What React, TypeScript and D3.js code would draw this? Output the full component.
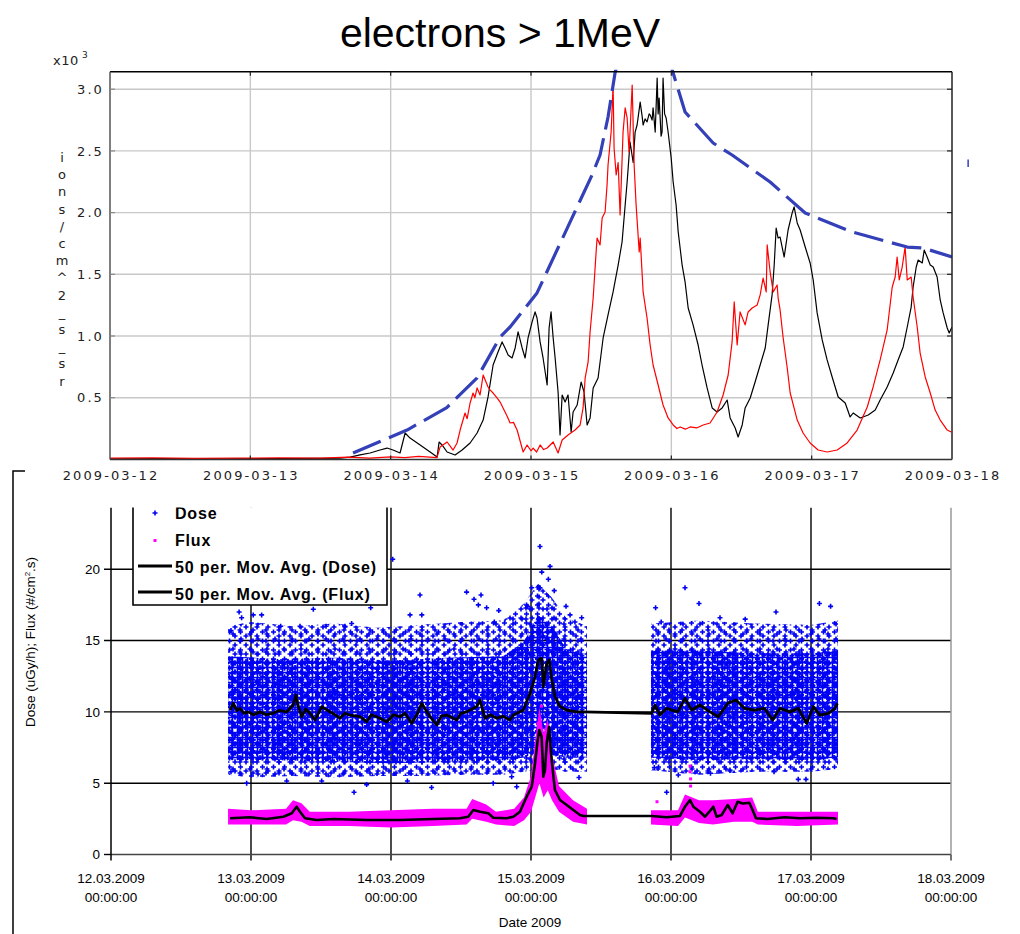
import React from "react";
import * as d3 from "d3";

// ---------- upper panel: electrons > 1 MeV ----------
const TOP_DAY_LABELS = [
  "2009-03-12", "2009-03-13", "2009-03-14", "2009-03-15",
  "2009-03-16", "2009-03-17", "2009-03-18",
];
const TOP_Y_TICKS = [500, 1000, 1500, 2000, 2500, 3000];
const TOP_Y_LABEL = "ions/cm^2_s_sr";

// [day since 2009-03-12 00:00, ions/cm^2-s-sr]
const redChannel: [number, number][] = [
  [0, 10], [0.3, 12], [0.6, 8], [0.9, 10], [1.2, 12], [1.5, 10], [1.7, 18], [1.85, 10], [2.0, 20],
  [2.1, 15], [2.2, 25], [2.33, 15], [2.352, 100], [2.402, 141], [2.445, 76], [2.473, 133], [2.495, 238],
  [2.53, 376], [2.545, 330], [2.566, 457], [2.587, 538], [2.6, 500], [2.616, 579], [2.637, 522], [2.659, 684], [2.694, 587],
  [2.708, 563], [2.73, 538], [2.758, 498], [2.78, 465], [2.801, 417], [2.83, 350], [2.851, 295], [2.875, 300], [2.901, 238],
  [2.944, 60], [2.972, 117], [3.0, 70], [3.015, 92], [3.04, 60], [3.065, 117], [3.09, 80], [3.115, 92], [3.158, 141], [3.193, 52],
  [3.222, 157], [3.264, 198], [3.314, 238], [3.35, 279], [3.371, 417], [3.386, 660], [3.407, 790],
  [3.421, 1033], [3.443, 1308], [3.464, 1681], [3.471, 1794], [3.492, 1738], [3.507, 1956], [3.528, 2005],
  [3.542, 2224], [3.549, 2386], [3.571, 2653], [3.585, 3034], [3.592, 2524], [3.607, 2305], [3.621, 2406],
  [3.635, 1981], [3.656, 2653], [3.671, 2849], [3.685, 2767], [3.699, 2491], [3.721, 3034], [3.735, 2386],
  [3.749, 2062], [3.771, 1681], [3.778, 1794], [3.799, 1357], [3.827, 1146], [3.849, 927], [3.87, 765],
  [3.906, 603], [3.941, 441], [3.977, 336], [4.013, 279], [4.04, 250], [4.063, 263], [4.1, 245], [4.134, 263], [4.18, 255], [4.227, 279],
  [4.276, 295], [4.326, 384], [4.369, 522], [4.405, 684], [4.433, 952], [4.448, 1276], [4.469, 927],
  [4.49, 1195], [4.526, 1090], [4.547, 1195], [4.576, 1227], [4.612, 1252], [4.633, 1333], [4.654, 1470],
  [4.676, 1357], [4.683, 1738], [4.704, 1519], [4.726, 1357], [4.754, 1414], [4.761, 1308], [4.775, 1211],
  [4.797, 984], [4.825, 749], [4.847, 538], [4.897, 319], [4.939, 214], [4.989, 133], [5.046, 76],
  [5.11, 60], [5.182, 76], [5.253, 133], [5.324, 238], [5.396, 425], [5.438, 587], [5.488, 806],
  [5.538, 1049], [5.574, 1397], [5.595, 1478], [5.609, 1640], [5.624, 1454], [5.645, 1559], [5.666, 1721],
  [5.681, 1454], [5.709, 1478], [5.723, 1316], [5.752, 1073], [5.773, 862], [5.809, 668], [5.845, 538],
  [5.88, 400], [5.916, 319], [5.966, 238], [5.994, 222],
];

const blackChannel: [number, number][] = [
  [0, 5], [0.4, 6], [0.8, 5], [1.2, 6], [1.5, 8], [1.639, 11], [1.711, 19], [1.782, 36], [1.853, 52],
  [1.924, 76], [1.974, 92], [2.017, 76], [2.067, 52], [2.103, 214], [2.138, 173], [2.21, 117], [2.281, 60],
  [2.331, 19], [2.345, 141], [2.366, 117], [2.402, 60], [2.459, 36], [2.509, 76], [2.566, 133], [2.616, 214],
  [2.659, 319], [2.694, 506], [2.73, 765], [2.765, 871], [2.794, 952], [2.815, 903], [2.837, 846],
  [2.865, 822], [2.887, 903], [2.908, 1033], [2.937, 903], [2.958, 822], [2.979, 984], [3.008, 1114],
  [3.029, 1195], [3.043, 1146], [3.065, 952], [3.086, 822], [3.115, 603], [3.129, 1065], [3.143, 1195],
  [3.158, 984], [3.172, 822], [3.193, 546], [3.207, 198], [3.222, 522], [3.243, 465], [3.264, 522],
  [3.286, 222], [3.3, 384], [3.329, 441], [3.357, 627], [3.378, 546], [3.4, 279], [3.421, 336],
  [3.443, 579], [3.478, 660], [3.514, 984], [3.549, 1171], [3.585, 1357], [3.621, 1575], [3.649, 1762],
  [3.671, 2062], [3.685, 2248], [3.706, 2572], [3.728, 2406], [3.742, 2653], [3.756, 2710], [3.778, 2896],
  [3.792, 2780], [3.799, 2710], [3.813, 2760], [3.827, 2735], [3.842, 2800], [3.849, 2792], [3.863, 2750],
  [3.87, 2849], [3.885, 2653], [3.892, 2870], [3.899, 3091], [3.906, 2800], [3.913, 2929], [3.927, 2620],
  [3.934, 2653], [3.941, 3091], [3.952, 2800], [3.963, 2767], [3.977, 2653], [3.999, 2443], [4.013, 2248],
  [4.034, 2062], [4.049, 1843], [4.077, 1575], [4.098, 1438], [4.12, 1227], [4.155, 1090], [4.191, 927],
  [4.219, 765], [4.255, 579], [4.291, 417], [4.326, 384], [4.362, 417], [4.398, 481], [4.419, 336],
  [4.455, 254], [4.476, 182], [4.505, 279], [4.526, 417], [4.562, 498], [4.597, 627], [4.633, 765],
  [4.669, 903], [4.69, 1090], [4.718, 1333], [4.733, 1575], [4.747, 1875], [4.761, 1794], [4.775, 1802],
  [4.804, 1640], [4.832, 1859], [4.861, 1997], [4.875, 2046], [4.897, 1916], [4.918, 1859], [4.954, 1721],
  [4.989, 1592], [5.011, 1454], [5.039, 1187], [5.075, 968], [5.11, 806], [5.146, 668], [5.189, 506],
  [5.239, 457], [5.274, 344], [5.296, 376], [5.346, 336], [5.403, 360], [5.453, 400], [5.488, 481],
  [5.538, 587], [5.581, 700], [5.616, 806], [5.652, 911], [5.681, 1073], [5.709, 1235], [5.723, 1397],
  [5.745, 1559], [5.759, 1616], [5.788, 1592], [5.802, 1697], [5.823, 1640], [5.845, 1575], [5.866, 1559],
  [5.894, 1478], [5.916, 1292], [5.937, 1187], [5.966, 1065], [5.98, 1025], [6.0, 1073],
];

// hand-drawn upper envelope of the peaks
const peakEnvelope: [number, number][] = [
  [1.732, 52], [2.117, 238], [2.4, 420], [2.616, 660], [2.78, 992], [2.851, 1073], [3.043, 1349], [3.435, 2305],
  [3.492, 2467], [3.549, 2775], [3.6, 3140], [3.8, 3900], [4.013, 3131], [4.098, 2815], [4.298, 2564],
  [4.433, 2467], [4.704, 2248], [4.954, 1997], [5.289, 1843], [5.681, 1721], [5.795, 1713], [6.0, 1640],
];
const envelopeStray: [number, number][] = [[6.115, 2370], [6.115, 2430]];

// ---------- lower panel: dose / flux ----------
const BOTTOM_DATE_LABELS = [
  "12.03.2009", "13.03.2009", "14.03.2009", "15.03.2009",
  "16.03.2009", "17.03.2009", "18.03.2009",
];
const BOTTOM_TIME_LABEL = "00:00:00";
const BOTTOM_Y_TICKS = [0, 5, 10, 15, 20];

// dose scatter extent: [day, low, high] of the thinner outer spread and the dense core
const doseSpreadA: [number, number, number][] = [
  [0.836, 5.6, 16.0], [1.0, 5.4, 16.3], [1.3, 5.5, 16.0], [1.6, 5.4, 16.2], [1.9, 5.5, 15.9],
  [2.2, 5.5, 16.1], [2.5, 5.6, 16.3], [2.8, 5.6, 16.4], [2.95, 5.8, 17.6], [3.05, 6.0, 19.0],
  [3.15, 6.0, 18.0], [3.25, 5.8, 16.6], [3.4, 5.8, 16.0],
];
const doseCoreA: [number, number, number][] = [
  [0.836, 6.6, 13.9], [1.2, 6.6, 13.7], [1.6, 6.5, 13.8], [2.0, 6.4, 13.6], [2.4, 6.5, 13.8],
  [2.8, 6.6, 13.9], [2.95, 6.8, 14.9], [3.05, 7.2, 16.8], [3.15, 7.0, 16.0], [3.25, 6.8, 14.4],
  [3.4, 6.8, 13.9],
];
const doseSpreadB: [number, number, number][] = [
  [3.857, 5.9, 16.2], [4.2, 5.6, 16.4], [4.6, 5.8, 16.2], [5.0, 5.8, 16.1], [5.193, 6.0, 16.4],
];
const doseCoreB: [number, number, number][] = [
  [3.857, 6.8, 14.3], [4.2, 6.6, 14.3], [4.6, 6.7, 14.1], [5.0, 6.6, 14.1], [5.193, 6.8, 14.3],
];
const doseOutliers: [number, number][] = [
  [0.857, 15.7], [0.915, 17.0], [0.933, 16.6], [1.016, 16.8], [1.076, 16.8], [1.212, 16.0], [1.35, 16.0],
  [1.445, 17.2], [1.536, 16.0], [1.671, 16.0], [1.719, 16.2], [1.855, 17.3], [2.012, 20.7], [2.136, 16.8],
  [2.207, 18.2], [2.22, 16.8], [2.54, 18.4], [2.593, 17.9], [2.643, 18.2], [2.624, 17.5], [2.683, 17.3],
  [2.77, 17.1], [2.738, 16.3], [3.064, 21.6], [3.136, 20.2], [3.077, 19.8], [3.124, 19.3], [3.005, 18.7],
  [3.064, 18.7], [3.166, 18.5], [2.976, 17.4], [3.25, 17.4], [3.279, 16.8], [3.362, 16.6], [3.314, 16.3],
  [0.969, 5.0], [1.736, 4.36], [2.29, 4.7], [1.826, 4.9], [1.505, 5.15], [1.255, 5.15], [2.117, 5.15],
  [2.73, 5.0], [2.862, 5.45], [0.857, 5.8], [2.898, 4.75], [3.343, 5.4], [3.969, 4.36], [4.052, 5.57],
  [4.282, 5.7], [4.421, 5.93], [4.909, 5.27], [4.964, 5.27], [4.736, 5.8], [3.881, 6.1],
  [3.89, 17.3], [4.1, 18.7], [4.2, 17.6], [4.53, 16.5], [4.75, 17.0], [5.06, 17.6], [5.14, 17.4],
  [3.93, 16.3], [4.35, 16.6],
];

// flux scatter extent: [day, low, high]
const fluxSpreadA: [number, number, number][] = [
  [0.836, 2.1, 3.2], [1.0, 2.1, 3.1], [1.25, 2.1, 3.2], [1.3, 2.4, 3.8], [1.36, 2.3, 3.6], [1.42, 2.0, 3.0],
  [1.7, 2.0, 3.0], [2.0, 1.9, 3.1], [2.3, 2.0, 3.2], [2.54, 2.1, 3.2], [2.58, 2.5, 3.9], [2.68, 2.3, 3.5],
  [2.75, 2.1, 3.0], [2.88, 2.0, 3.2], [2.95, 2.4, 4.0], [3.0, 3.0, 5.5], [3.03, 4.0, 8.0], [3.06, 5.0, 10.3],
  [3.09, 4.0, 8.5], [3.12, 4.5, 9.5], [3.15, 3.8, 7.0], [3.2, 3.0, 4.8], [3.3, 2.3, 3.8], [3.4, 2.1, 3.2],
];
const fluxSpreadB: [number, number, number][] = [
  [3.857, 2.1, 3.1], [4.05, 2.0, 3.1], [4.1, 2.6, 4.2], [4.2, 2.2, 3.8], [4.3, 2.1, 3.8], [4.45, 2.3, 3.9],
  [4.58, 2.3, 4.0], [4.62, 2.1, 3.0], [4.9, 2.0, 3.0], [5.193, 2.1, 3.0],
];
const fluxOutliers: [number, number][] = [
  [4.136, 6.2], [4.136, 5.8], [4.14, 5.3], [4.14, 4.8], [3.074, 10.4], [3.05, 9.2], [3.9, 3.7],
];

// 50-period moving averages
const doseAverage: [number, number][] = [
  [0.85, 10.13], [0.874, 10.6], [0.9, 10.1], [0.921, 10.25], [0.95, 9.9], [0.981, 10.0], [1.02, 9.8], [1.064, 10.0],
  [1.11, 9.8], [1.157, 9.9], [1.2, 10.1], [1.255, 10.0],
  [1.302, 10.5], [1.321, 11.2], [1.338, 10.4], [1.362, 9.66], [1.39, 10.2], [1.421, 9.9], [1.457, 9.43], [1.505, 10.37],
  [1.564, 10.0], [1.6, 9.8], [1.636, 9.55], [1.67, 9.9], [1.707, 9.78], [1.779, 9.66], [1.826, 9.31], [1.86, 9.8], [1.898, 9.66],
  [1.969, 9.31], [2.02, 9.8],
  [2.064, 9.66], [2.1, 9.9], [2.148, 9.2], [2.19, 9.9], [2.219, 10.6], [2.279, 9.66], [2.326, 9.08], [2.36, 9.7], [2.398, 9.78],
  [2.469, 9.43], [2.5, 9.9],
  [2.54, 10.0], [2.612, 10.37], [2.636, 10.83], [2.671, 9.55], [2.71, 9.8], [2.755, 9.55], [2.8, 9.7], [2.85, 9.43], [2.874, 9.78],
  [2.945, 10.13], [2.993, 11.3], [3.029, 12.47], [3.052, 13.64], [3.076, 13.76], [3.088, 11.77],
  [3.112, 13.4], [3.131, 13.64], [3.148, 12.24], [3.171, 11.07], [3.207, 10.37], [3.255, 10.13],
  [3.326, 10.0], [3.374, 10.0], [3.862, 9.9], [3.886, 10.48], [3.921, 9.78], [3.969, 10.25], [4.048, 10.0],
  [4.1, 10.95], [4.148, 10.13], [4.207, 10.48], [4.279, 10.0], [4.338, 9.66], [4.405, 10.6], [4.464, 10.83],
  [4.524, 10.25], [4.595, 10.13], [4.667, 10.25], [4.726, 9.43], [4.779, 10.25], [4.85, 10.0],
  [4.909, 10.25], [4.969, 9.2], [5.017, 10.37], [5.064, 9.78], [5.124, 9.9], [5.171, 10.25], [5.188, 10.6],
];
const fluxAverage: [number, number][] = [
  [0.85, 2.54], [0.993, 2.61], [1.112, 2.49], [1.231, 2.65], [1.291, 2.89], [1.326, 3.35], [1.35, 3.0],
  [1.386, 2.54], [1.469, 2.42], [1.588, 2.49], [1.826, 2.42], [2.064, 2.42], [2.302, 2.49], [2.493, 2.54],
  [2.552, 2.65], [2.588, 3.12], [2.636, 3.0], [2.695, 2.89], [2.731, 2.58], [2.826, 2.54], [2.874, 2.65],
  [2.921, 3.0], [2.969, 4.05], [3.005, 4.75], [3.029, 6.4], [3.045, 7.8], [3.059, 8.73], [3.076, 8.26],
  [3.088, 5.45], [3.1, 5.93], [3.112, 7.8], [3.129, 8.96], [3.141, 7.33], [3.155, 5.93], [3.171, 4.52],
  [3.207, 3.82], [3.255, 3.47], [3.302, 3.12], [3.35, 2.77], [3.374, 2.7], [3.862, 2.7], [3.969, 2.61],
  [4.064, 2.7], [4.1, 3.35], [4.136, 3.82], [4.16, 3.35], [4.207, 3.0], [4.243, 2.65], [4.274, 3.0],
  [4.302, 3.35], [4.326, 2.65], [4.362, 2.77], [4.405, 3.47], [4.44, 2.89], [4.476, 3.7], [4.512, 3.58],
  [4.559, 3.63], [4.583, 3.12], [4.607, 2.54], [4.69, 2.49], [4.81, 2.61], [4.921, 2.54], [5.04, 2.58],
  [5.16, 2.54], [5.183, 2.49],
];

// ---------- layout ----------
const W = 1020;
const H = 934;
const TOP = { left: 110, right: 952, top: 71.7, bottom: 459.4 };
const BOT = { left: 111, right: 951, top: 507.5, bottom: 854.5 };

const xTop = d3.scaleLinear().domain([0, 6]).range([TOP.left, TOP.right]);
const yTop = d3.scaleLinear().domain([0, 3142]).range([TOP.bottom, TOP.top]);
const xBot = d3.scaleLinear().domain([0, 6]).range([BOT.left, BOT.right]);
const yBot = d3.scaleLinear().domain([0, 24.33]).range([BOT.bottom, BOT.top]);

const topLine = d3.line<[number, number]>().x((d) => xTop(d[0])).y((d) => yTop(d[1]));
const botLine = d3.line<[number, number]>().x((d) => xBot(d[0])).y((d) => yBot(d[1]));
const botBand = d3
  .area<[number, number, number]>()
  .x((d) => xBot(d[0]))
  .y0((d) => yBot(d[1]))
  .y1((d) => yBot(d[2]));

const DOSE_BLUE = "#0000f4";
const FLUX_MAGENTA = "#ff00ff";
const TOP_FONT = "'DejaVu Sans', Verdana, sans-serif";
const BOT_FONT = "'Liberation Sans', Arial, sans-serif";

const cross = (x: number, y: number, r: number) =>
  `M${x - r},${y}h${2 * r}M${x},${y - r}v${2 * r}`;

// marker textures for the scatter clouds: lattices of different periods
// laid over each other so the crosses do not line up into a visible grid
const LATTICES = [
  { id: "latA", w: 5, h: 5, pts: [[2.5, 2.5]] },
  { id: "latB", w: 7, h: 6, pts: [[1, 1.5]] },
  { id: "latC", w: 11, h: 9, pts: [[4, 6], [9.5, 2]] },
  { id: "latD", w: 13, h: 11, pts: [[6, 3]] },
  { id: "latE", w: 17, h: 15, pts: [[3, 9], [12, 4]] },
];
const wrapCrosses = (pts: number[][], w: number, h: number, r: number) => {
  let p = "";
  for (const [x, y] of pts)
    for (const dx of [-w, 0, w]) for (const dy of [-h, 0, h]) p += cross(x + dx, y + dy, r);
  return p;
};
const CORE_LAYERS = ["latA", "latB", "latC", "latD", "latE"];
const SPREAD_LAYERS = ["latC", "latD", "latE"];

export default function App() {
  const dayIdx = d3.range(7);
  return (
    <div style={{ position: "absolute", left: 0, top: 0, width: W, height: H, background: "#fff" }}>
      <svg width={W} height={H} viewBox={`0 0 ${W} ${H}`} style={{ display: "block" }}>
        <defs>
          <clipPath id="topClip">
            <rect x={TOP.left} y={TOP.top - 2} width={TOP.right - TOP.left} height={TOP.bottom - TOP.top + 2} />
          </clipPath>
          <clipPath id="botClip">
            <rect x={BOT.left} y={BOT.top} width={BOT.right - BOT.left} height={BOT.bottom - BOT.top} />
          </clipPath>
          <clipPath id="botFrameClip">
            <rect x={0} y={BOT.top} width={W} height={H - BOT.top} />
          </clipPath>
          {LATTICES.map((l) => (
            <pattern key={l.id} id={l.id} patternUnits="userSpaceOnUse" width={l.w} height={l.h}>
              <path d={wrapCrosses(l.pts, l.w, l.h, 2.5)} stroke={DOSE_BLUE} strokeWidth={1.6} />
            </pattern>
          ))}
        </defs>

        {/* ---------- upper panel ---------- */}
        <text x={500} y={47} textAnchor="middle" fontFamily={BOT_FONT} fontSize={41} fill="#000">
          electrons &gt; 1MeV
        </text>

        {/* grid */}
        <g stroke="#c8c8c8" strokeWidth={1.4}>
          {dayIdx.slice(1, 6).map((i) => (
            <line key={`tv${i}`} x1={xTop(i)} x2={xTop(i)} y1={TOP.top} y2={TOP.bottom} />
          ))}
          {TOP_Y_TICKS.map((t) => (
            <line key={`th${t}`} x1={TOP.left} x2={TOP.right} y1={yTop(t)} y2={yTop(t)} />
          ))}
        </g>

        {/* data */}
        <g clipPath="url(#topClip)" fill="none">
          <path d={topLine(blackChannel) || ""} stroke="#000" strokeWidth={1.2} strokeLinejoin="round" />
          <path d={topLine(redChannel) || ""} stroke="#ff0000" strokeWidth={1.2} strokeLinejoin="round" />
          <path
            d={topLine(peakEnvelope) || ""}
            stroke="#3340b8"
            strokeWidth={3.2}
            strokeDasharray="30 9"
            strokeLinejoin="round"
          />
        </g>
        <path d={topLine(envelopeStray) || ""} stroke="#3340b8" strokeWidth={1.5} fill="none" />

        {/* frame and ticks */}
        <g fill="none">
          <line x1={TOP.left} x2={TOP.right} y1={TOP.top} y2={TOP.top} stroke="#000" strokeWidth={1.5} />
          <line x1={TOP.right} x2={TOP.right} y1={TOP.top} y2={TOP.bottom} stroke="#222" strokeWidth={1.5} />
          <line x1={TOP.left} x2={TOP.left} y1={TOP.top} y2={TOP.bottom} stroke="#555" strokeWidth={1.5} />
          <line x1={TOP.left} x2={TOP.right} y1={TOP.bottom} y2={TOP.bottom} stroke="#333" strokeWidth={1.5} />
          {dayIdx.slice(1, 6).map((i) => (
            <g key={`tt${i}`} stroke="#222" strokeWidth={1.2}>
              <line x1={xTop(i)} x2={xTop(i)} y1={TOP.top} y2={TOP.top + 4} />
              <line x1={xTop(i)} x2={xTop(i)} y1={TOP.bottom} y2={TOP.bottom - 4} />
            </g>
          ))}
          {TOP_Y_TICKS.map((t) => (
            <g key={`ty${t}`} strokeWidth={1.2}>
              <line x1={TOP.right} x2={TOP.right - 5} y1={yTop(t)} y2={yTop(t)} stroke="#222" />
              <line x1={TOP.left} x2={TOP.left + 5} y1={yTop(t)} y2={yTop(t)} stroke="#888" />
            </g>
          ))}
        </g>

        {/* labels */}
        <g fontFamily={TOP_FONT} fontSize={13} fill="#222" letterSpacing={2.1}>
          {TOP_DAY_LABELS.map((lab, i) => (
            <text key={lab} x={xTop(i) + 1} y={480} textAnchor="middle">
              {lab}
            </text>
          ))}
          {TOP_Y_TICKS.map((t) => (
            <text key={`yl${t}`} x={104} y={yTop(t)} dy="0.36em" textAnchor="end">
              {(t / 1000).toFixed(1)}
            </text>
          ))}
          {TOP_Y_LABEL.split("").map((ch, i) => (
            <text key={`ch${i}`} x={62} y={162 + i * 17.2} textAnchor="middle" letterSpacing={0}>
              {ch}
            </text>
          ))}
          <text x={53} y={65} letterSpacing={0.5}>
            x10
          </text>
          <text x={82} y={58} fontSize={9} letterSpacing={0}>
            3
          </text>
        </g>

        {/* ---------- lower panel ---------- */}
        <path d="M25,471 H13 V934" stroke="#000" strokeWidth={1.5} fill="none" />

        <g clipPath="url(#botFrameClip)">
          {/* grid */}
          <g stroke="#000" strokeWidth={1.4}>
            {BOTTOM_Y_TICKS.slice(1).map((t) => (
              <line key={`bh${t}`} x1={BOT.left - 7} x2={BOT.right} y1={yBot(t)} y2={yBot(t)} />
            ))}
            {dayIdx.slice(1, 6).map((i) => (
              <line key={`bv${i}`} x1={xBot(i)} x2={xBot(i)} y1={BOT.top} y2={BOT.bottom + 6} />
            ))}
          </g>

          {/* scatter clouds and moving averages */}
          <g clipPath="url(#botClip)">
            {[doseSpreadA, doseSpreadB].map((band, k) =>
              SPREAD_LAYERS.map((id) => (
                <path key={`sp${k}${id}`} d={botBand(band) || ""} fill={`url(#${id})`} />
              ))
            )}
            {[doseCoreA, doseCoreB].map((band, k) =>
              CORE_LAYERS.map((id) => (
                <path key={`co${k}${id}`} d={botBand(band) || ""} fill={`url(#${id})`} />
              ))
            )}
            <path
              d={doseOutliers.map((d) => cross(xBot(d[0]), yBot(d[1]), 2.5)).join("")}
              stroke={DOSE_BLUE}
              strokeWidth={1.6}
            />
            <path d={botBand(fluxSpreadA) || ""} fill={FLUX_MAGENTA} />
            <path d={botBand(fluxSpreadB) || ""} fill={FLUX_MAGENTA} />
            {fluxOutliers.map((d, i) => (
              <rect key={`fo${i}`} x={xBot(d[0]) - 1.5} y={yBot(d[1]) - 1.5} width={3} height={3} fill={FLUX_MAGENTA} />
            ))}
            <path d={botLine(doseAverage) || ""} stroke="#000" strokeWidth={2.8} fill="none" strokeLinejoin="round" />
            <path d={botLine(fluxAverage) || ""} stroke="#000" strokeWidth={2.6} fill="none" strokeLinejoin="round" />
          </g>

          {/* axes */}
          <line x1={BOT.left} x2={BOT.right} y1={BOT.bottom} y2={BOT.bottom} stroke="#444" strokeWidth={1.5} />
          <line x1={BOT.left} x2={BOT.left} y1={BOT.top} y2={BOT.bottom + 6} stroke="#000" strokeWidth={1.5} />
          <line x1={BOT.right} x2={BOT.right} y1={BOT.top} y2={BOT.bottom} stroke="#999" strokeWidth={1.5} />
          <line x1={BOT.right} x2={BOT.right} y1={BOT.bottom} y2={BOT.bottom + 6} stroke="#444" strokeWidth={1.5} />
          <line x1={BOT.left - 7} x2={BOT.left} y1={BOT.bottom} y2={BOT.bottom} stroke="#000" strokeWidth={1.4} />

          {/* legend */}
          <g>
            <path d={`M133,${BOT.top - 2} V605 H387 V${BOT.top - 2}`} fill="#fff" stroke="#000" strokeWidth={1.6} />
            <path d={cross(155, 513, 2.5)} stroke={DOSE_BLUE} strokeWidth={1.6} />
            <rect x={153.5} y={539} width={3} height={3} fill={FLUX_MAGENTA} />
            <line x1={138} x2={172} y1={566} y2={566} stroke="#000" strokeWidth={3} />
            <line x1={138} x2={172} y1={592} y2={592} stroke="#000" strokeWidth={3} />
            <g fontFamily={BOT_FONT} fontWeight="bold" fontSize={16} fill="#000" letterSpacing={0.8}>
              <text x={175} y={518.5}>Dose</text>
              <text x={175} y={546}>Flux</text>
              <text x={175} y={572.5}>50 per. Mov. Avg. (Dose)</text>
              <text x={175} y={599.5}>50 per. Mov. Avg. (Flux)</text>
            </g>
          </g>
        </g>

        {/* lower panel labels */}
        <g fontFamily={BOT_FONT} fontSize={13.5} fill="#000">
          {BOTTOM_Y_TICKS.map((t) => (
            <text key={`byl${t}`} x={100} y={yBot(t)} dy="0.36em" textAnchor="end">
              {t}
            </text>
          ))}
          {BOTTOM_DATE_LABELS.map((lab, i) => (
            <g key={lab}>
              <text x={xBot(i)} y={883} textAnchor="middle">
                {lab}
              </text>
              <text x={xBot(i)} y={902} textAnchor="middle">
                {BOTTOM_TIME_LABEL}
              </text>
            </g>
          ))}
          <text x={530} y={927} textAnchor="middle">
            Date 2009
          </text>
          <text transform="translate(35,642) rotate(-90)" textAnchor="middle" fontSize={13.5}>
            Dose (uGy/h); Flux (#/cm
            <tspan dy={-5} fontSize={8}>2</tspan>
            <tspan dy={5}>.s)</tspan>
          </text>
        </g>
      </svg>
    </div>
  );
}
